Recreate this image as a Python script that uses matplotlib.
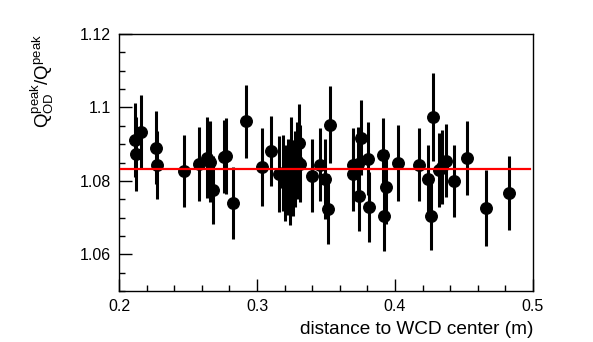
import matplotlib
matplotlib.use("Agg")
import matplotlib.pyplot as plt
from matplotlib.ticker import MultipleLocator

plt.rcParams['font.family'] = ['Liberation Sans', 'DejaVu Sans']
plt.rcParams['mathtext.fontset'] = 'custom'
plt.rcParams['mathtext.rm'] = 'Liberation Sans'
plt.rcParams['mathtext.it'] = 'Liberation Sans'

distance = [0.2116, 0.2123, 0.2159, 0.2268, 0.2275, 0.2471, 0.2580, 0.2638, 0.2659, 0.2681,
            0.2761, 0.2775, 0.2826, 0.2920, 0.3036, 0.3101, 0.3159, 0.3188, 0.3203, 0.3225,
            0.3239, 0.3246, 0.3261, 0.3275, 0.3290, 0.3304, 0.3308, 0.3399, 0.3457, 0.3493,
            0.3514, 0.3529, 0.3696, 0.3699, 0.3732, 0.3736, 0.3754, 0.3804, 0.3812, 0.3913,
            0.3935, 0.3917, 0.4022, 0.4174, 0.4239, 0.4261, 0.4275, 0.4319, 0.4341, 0.4370,
            0.4428, 0.4522, 0.4659, 0.4826]
ratio = [1.0912, 1.0874, 1.0932, 1.0890, 1.0844, 1.0827, 1.0847, 1.0863, 1.0852, 1.0775,
         1.0866, 1.0868, 1.0740, 1.0962, 1.0838, 1.0882, 1.0819, 1.0822, 1.0795, 1.0811,
         1.0784, 1.0871, 1.0808, 1.0833, 1.0855, 1.0904, 1.0847, 1.0814, 1.0844, 1.0805,
         1.0723, 1.0953, 1.0844, 1.0819, 1.0847, 1.0759, 1.0918, 1.0860, 1.0729, 1.0871,
         1.0784, 1.0704, 1.0849, 1.0844, 1.0805, 1.0704, 1.0975, 1.0830, 1.0838, 1.0855,
         1.0800, 1.0863, 1.0726, 1.0767]
ratio_err = [0.0101, 0.0101, 0.0101, 0.0099, 0.0093, 0.0099, 0.0101, 0.0110, 0.0110, 0.0093,
             0.0099, 0.0104, 0.0099, 0.0099, 0.0107, 0.0096, 0.0104, 0.0104, 0.0104, 0.0104,
             0.0104, 0.0104, 0.0104, 0.0104, 0.0104, 0.0104, 0.0104, 0.0099, 0.0099, 0.0110,
             0.0096, 0.0104, 0.0101, 0.0101, 0.0101, 0.0096, 0.0101, 0.0099, 0.0096, 0.0099,
             0.0101, 0.0096, 0.0104, 0.0099, 0.0093, 0.0093, 0.0120, 0.0101, 0.0101, 0.0099,
             0.0099, 0.0101, 0.0104, 0.0101]
fit_value = 1.0831
fit_range = [0.2014, 0.4978]

fig = plt.figure(figsize=(5.93, 3.42), dpi=100)
ax = fig.add_axes([0.2007, 0.1491, 0.6981, 0.7515])

ax.errorbar(distance, ratio, yerr=ratio_err, fmt='o', color='black', ms=8.3,
            elinewidth=2.2, capsize=0, zorder=3)
ax.plot(fit_range, [fit_value, fit_value], color='#ff0000', lw=1.6, zorder=4)

ax.set_xlim(0.2, 0.5)
ax.set_ylim(1.05, 1.12)
ax.xaxis.set_minor_locator(MultipleLocator(0.02))
ax.yaxis.set_minor_locator(MultipleLocator(0.005))
ax.set_xticks([0.2, 0.3, 0.4, 0.5])
ax.set_xticklabels(['0.2', '0.3', '0.4', '0.5'])
ax.set_yticks([1.06, 1.08, 1.1, 1.12])
ax.set_yticklabels(['1.06', '1.08', '1.1', '1.12'])

ax.tick_params(which='both', direction='in', top=False, right=False, labelsize=11.5, pad=6)
ax.tick_params(which='major', length=9, width=1)
ax.tick_params(which='minor', length=4.5, width=1)
for s in ax.spines.values():
    s.set_linewidth(1)

ax.set_xlabel('distance to WCD center (m)', fontsize=13.7, loc='right', labelpad=5)
ax.set_ylabel(r'$\mathregular{Q^{peak}_{OD}/Q^{peak}}$', fontsize=13.5, loc='top', labelpad=17)

fig.savefig('out.png', dpi=100)
